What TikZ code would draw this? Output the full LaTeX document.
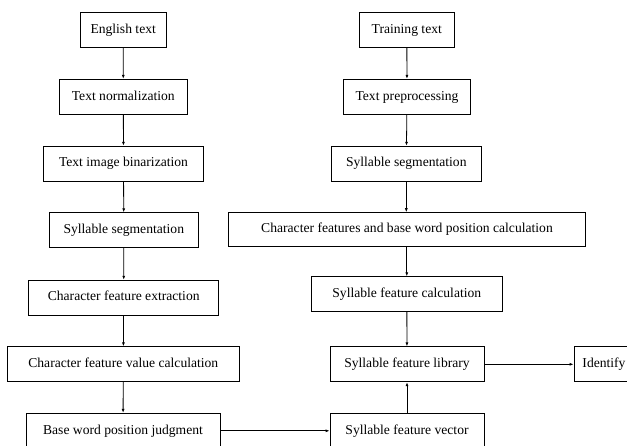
\documentclass[tikz,border=0pt]{standalone}
\usepackage{fontspec}
\setmainfont{Liberation Serif}
\usetikzlibrary{arrows.meta}
\begin{document}
\begin{tikzpicture}[x=1bp,y=-1bp,
  box/.style={draw,line width=0.8bp,inner sep=0pt,minimum height=35bp,text height=9.5bp,text depth=3bp,font=\fontsize{13.6bp}{16bp}\selectfont},
  arr/.style={line width=0.8bp,-{Latex[length=4bp,width=3bp]}}]
\useasboundingbox (0,0) rectangle (627,446);
\clip (0,0) rectangle (627,446);
% left column
\node[box,minimum width=86bp]  (e1) at (123.2,30.2)  {English text};
\node[box,minimum width=128bp] (e2) at (123.3,96.8)  {Text normalization};
\node[box,minimum width=159.6bp] (e3) at (123.5,163.7) {Text image binarization};
\node[box,minimum width=149.7bp] (e4) at (123.8,230.3) {Syllable segmentation};
\node[box,minimum width=190bp] (e5) at (123.7,297.7) {Character feature extraction};
\node[box,minimum width=232bp] (e6) at (123.3,364.3) {Character feature value calculation};
\node[box,minimum width=194bp] (e7) at (123,430.8)  {Base word position judgment};
% right column
\node[box,minimum width=95bp]  (t1) at (406.8,30.2)  {Training text};
\node[box,minimum width=127.4bp] (t2) at (407,96.8)  {Text preprocessing};
\node[box,minimum width=149.3bp] (t3) at (406.3,163.7) {Syllable segmentation};
\node[box,minimum width=357.4bp,minimum height=33.5bp] (t4) at (407,229.4) {Character features and base word position calculation};
\node[box,minimum width=191bp,minimum height=34.3bp] (t5) at (406.8,293.9) {Syllable feature calculation};
\node[box,minimum width=154bp] (t6) at (407,364.3)  {Syllable feature library};
\node[box,minimum width=154bp] (t8) at (407,430.8)  {Syllable feature vector};
\node[box,minimum width=60bp]  (t7) at (604,364.3)  {Identify};
% connectors
\draw[arr] (e1) -- (e2);
\draw[arr] (e2) -- (e3);
\draw[arr] (e3) -- (e4);
\draw[arr] (e4) -- (e5);
\draw[arr] (e5) -- (e6);
\draw[arr] (e6) -- (e7);
\draw[arr] (t1) -- (t2);
\draw[arr] (t2) -- (t3);
\draw[arr] (t3.south) -- (t3.south |- t4.north);
\draw[arr] (t4.south -| t5.north) -- (t5.north);
\draw[arr] (t5) -- (t6);
\draw[arr] (e7) -- (t8);
\draw[arr] (t8) -- (t6);
\draw[arr] (t6) -- (t7);
\end{tikzpicture}
\end{document}
